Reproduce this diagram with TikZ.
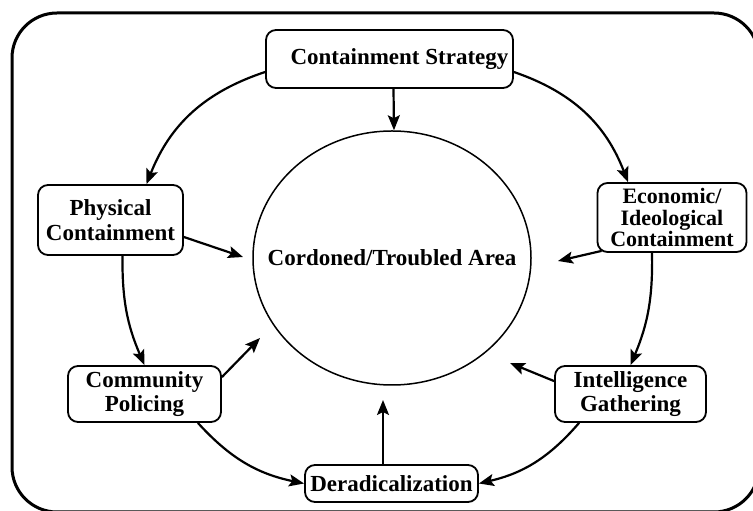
\documentclass[tikz,border=0pt]{standalone}
\usepackage{fontspec}
\setmainfont{Liberation Serif}
\usetikzlibrary{arrows.meta,shapes.geometric}

\begin{document}
\begin{tikzpicture}[x=1pt,y=1pt,
    box/.style={draw,line width=1.8pt,rounded corners=10pt,align=center,inner sep=2pt,
      font=\fontsize{23}{24.5}\selectfont\bfseries},
    link/.style={line width=2.2pt,-{Stealth[length=15pt,width=12pt,inset=3pt]}}]
  \useasboundingbox (0,0) rectangle (753,511);
  \clip (0,0) rectangle (753,511);
  \draw[line width=3pt,rounded corners=45pt] (12,-1) rectangle (759,498);
  % centre
  \node[draw,ellipse,line width=1.5pt,inner sep=0pt,minimum width=278pt,minimum height=254pt] (area) at (392,253) {};
  \node[font=\fontsize{23}{24}\selectfont\bfseries] (area-text) at (area.center) {Cordoned/Troubled Area};
  % boxes round it
  \node[box,minimum width=247pt,minimum height=58pt] (strategy) at (389.5,452) {\hspace*{20pt}Containment Strategy};
  \node[box,minimum width=145pt,minimum height=70pt] (physical) at (110.5,291) {Physical\\Containment};
  \node[box,minimum width=149pt,minimum height=69pt,
    font=\fontsize{22}{21.5}\selectfont\bfseries] (economic) at (672,293.5) {Economic/\\Ideological\\Containment};
  \node[box,minimum width=153pt,minimum height=56pt] (community) at (144.5,117) {Community\\Policing};
  \node[box,minimum width=151pt,minimum height=56pt] (intel) at (630.5,117) {Intelligence\\Gathering};
  \node[box,minimum width=173pt,minimum height=37pt] (derad) at (391.5,27.5) {Deradicalization};
  % arrow ends near the centre
  \coordinate (p-in) at (243,254);
  \coordinate (e-in) at (558,250);
  \coordinate (c-in) at (260,173);
  \coordinate (i-in) at (510,148);
  \coordinate (d-in) at (383,111);
  % outer ring
  \draw[link] ([yshift=-13pt]strategy.west) to[bend right=25] ([xshift=36pt]physical.north);
  \draw[link] ([yshift=-13pt]strategy.east) to[bend left=25] ([xshift=-44pt]economic.north);
  \draw[link] ([xshift=12pt]physical.south) to[bend right=12] (community.north);
  \draw[link] ([xshift=-20pt]economic.south) to[bend left=12] (intel.north);
  \draw[link] ([xshift=-24pt]community.south east) to[bend right=18] (derad.west);
  \draw[link] ([xshift=25pt]intel.south west) to[bend left=18] (derad.east);
  % into the area
  \draw[link] ([xshift=4pt]strategy.south) -- ([xshift=2pt]area.north);
  \draw[link] ([yshift=-17pt]physical.east) -- (p-in);
  \draw[link] ([xshift=5pt,yshift=2pt]economic.south west) -- (e-in);
  \draw[link] ([yshift=-12pt]community.north east) -- (c-in);
  \draw[link] ([yshift=-16pt]intel.north west) -- (i-in);
  \draw[link] (d-in |- derad.north) -- (d-in);
\end{tikzpicture}
\end{document}
